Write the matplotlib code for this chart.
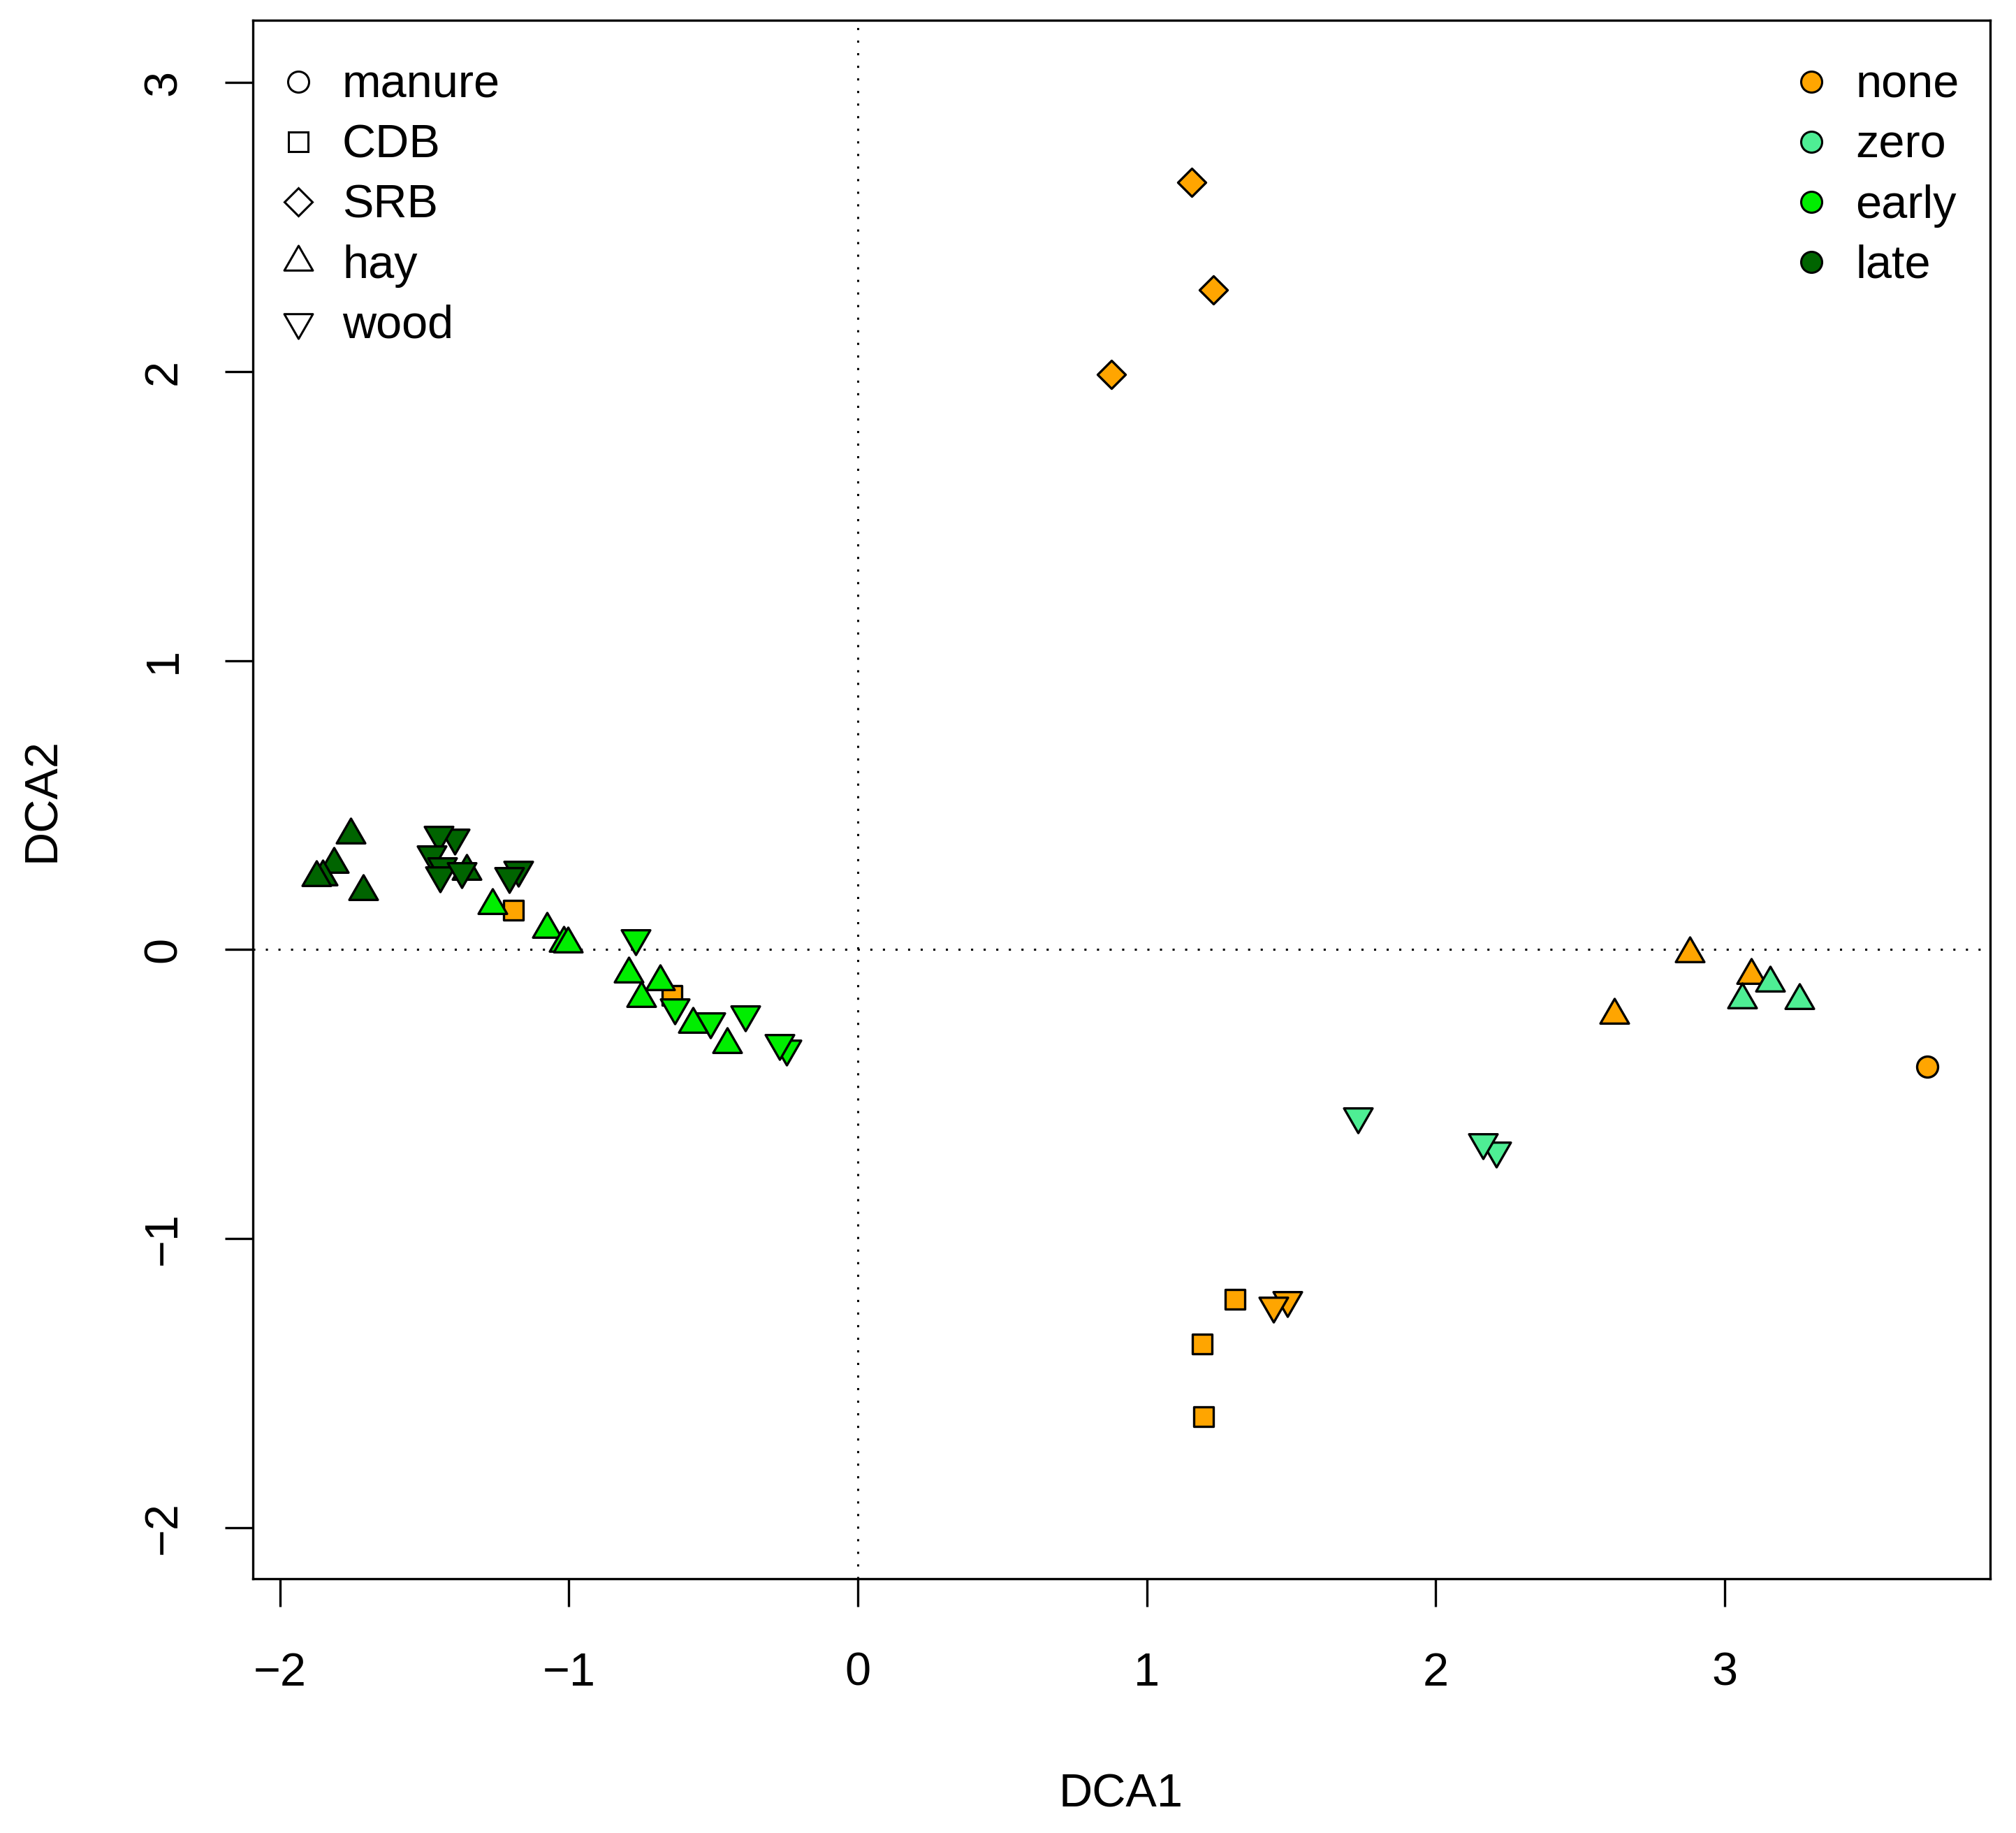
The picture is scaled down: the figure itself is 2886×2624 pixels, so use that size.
import matplotlib
import matplotlib.pyplot as plt
from matplotlib.lines import Line2D
from matplotlib.markers import MarkerStyle
from matplotlib.path import Path

matplotlib.rcParams.update({"font.family": "Liberation Sans", "font.size": 24})

# one entry per sample, in drawing order
stage = ["none"] * 14 + ["zero"] * 6 + ["early"] * 15 + ["late"] * 14
residue = (["manure"] + ["CDB"] * 5 + ["SRB"] * 3 + ["hay"] * 3 + ["wood"] * 2
           + ["hay"] * 3 + ["wood"] * 3
           + ["wood"] * 6 + ["hay"] * 9
           + ["hay"] * 6 + ["wood"] * 8)
dca1 = [3.703, -1.192, -0.644, 1.307, 1.192, 1.198, 1.156, 1.230, 0.878,
        2.879, 2.619, 3.094, 1.488, 1.440,
        3.157, 3.062, 3.259, 1.732, 2.211, 2.164,
        -0.769, -0.634, -0.511, -0.390, -0.247, -0.271,
        -1.265, -1.075, -1.019, -1.003, -0.793, -0.749, -0.684, -0.571, -0.453,
        -1.755, -1.813, -1.853, -1.874, -1.711, -1.354,
        -1.396, -1.450, -1.474, -1.438, -1.446, -1.370, -1.176, -1.206]
dca2 = [-0.406, 0.136, -0.159, -1.210, -1.365, -1.616, 2.656, 2.284, 1.991,
        -0.014, -0.225, -0.088, -1.213, -1.232,
        -0.116, -0.174, -0.175, -0.576, -0.694, -0.666,
        0.040, -0.200, -0.247, -0.223, -0.343, -0.324,
        0.153, 0.070, 0.022, 0.020, -0.084, -0.169, -0.110, -0.258, -0.327,
        0.398, 0.297, 0.252, 0.249, 0.202, 0.271,
        0.387, 0.397, 0.330, 0.289, 0.257, 0.272, 0.277, 0.255]

residues = ["manure", "CDB", "SRB", "hay", "wood"]
stages = ["none", "zero", "early", "late"]
stage_colors = {"none": "#FFA500", "zero": "#4EEE94", "early": "#00EE00", "late": "#006400"}

# triangles centred on the centroid, like R's pch 24 / 25
up = Path([(0, 1), (0.866, -0.5), (-0.866, -0.5), (0, 1)], closed=True)
down = Path([(0, -1), (0.866, 0.5), (-0.866, 0.5), (0, -1)], closed=True)
shapes = {
    "manure": ("o", 10.8),
    "CDB": ("s", 10.3),
    "SRB": ("D", 10.2),
    "hay": (MarkerStyle(up, joinstyle="miter"), 17.0),
    "wood": (MarkerStyle(down, joinstyle="miter"), 17.0),
}

fig = plt.figure(figsize=(14.43, 13.12), dpi=200)
ax = fig.add_axes([0.1253, 0.1387, 0.8619, 0.8501])

ax.axhline(0, color="black", lw=1.1, ls=(0, (1, 4.9)), zorder=1)
ax.axvline(0, color="black", lw=1.1, ls=(0, (1, 4.9)), zorder=1)

z = 2
for i in range(len(dca1)):
    m, ms = shapes[residue[i]]
    ax.scatter([dca1[i]], [dca2[i]], marker=m, s=ms ** 2,
               facecolor=stage_colors[stage[i]], edgecolor="black",
               linewidths=1.2, zorder=z)
    z += 1

ax.set_xlim(-2.095, 3.920)
ax.set_ylim(-2.177, 3.215)
ax.set_xticks(range(-2, 4))
ax.set_yticks(range(-2, 4))
ax.tick_params(axis="both", length=14.4, width=1.2)
ax.tick_params(axis="x", pad=23.3)
ax.tick_params(axis="y", pad=20)
plt.setp(ax.get_yticklabels(), rotation=90, va="center")
for s in ax.spines.values():
    s.set_linewidth(1.2)

h1 = [Line2D([], [], ls="none", marker=shapes[r][0], ms=shapes[r][1],
             mfc="none", mec="black", mew=1.1) for r in residues]
leg1 = ax.legend(h1, residues, loc="upper left", bbox_to_anchor=(0.01287, 0.9720),
                 borderaxespad=0, borderpad=0, frameon=False, handlelength=1.0,
                 handletextpad=0.445, labelspacing=0.36, fontsize=24)
ax.add_artist(leg1)

h2 = [Line2D([], [], ls="none", marker="o", ms=10.8, mfc=stage_colors[s],
             mec="black", mew=1.1) for s in stages]
ax.legend(h2, stages, loc="upper left", bbox_to_anchor=(0.8837, 0.9720),
          borderaxespad=0, borderpad=0, frameon=False, handlelength=1.0,
          handletextpad=0.445, labelspacing=0.36, fontsize=24)

fig.text(0.5561, 0.0208, "DCA1", ha="center", va="center", fontsize=24)
fig.text(0.0211, 0.5636, "DCA2", ha="center", va="center", rotation=90, fontsize=24)

fig.savefig("out.png", dpi=200)
